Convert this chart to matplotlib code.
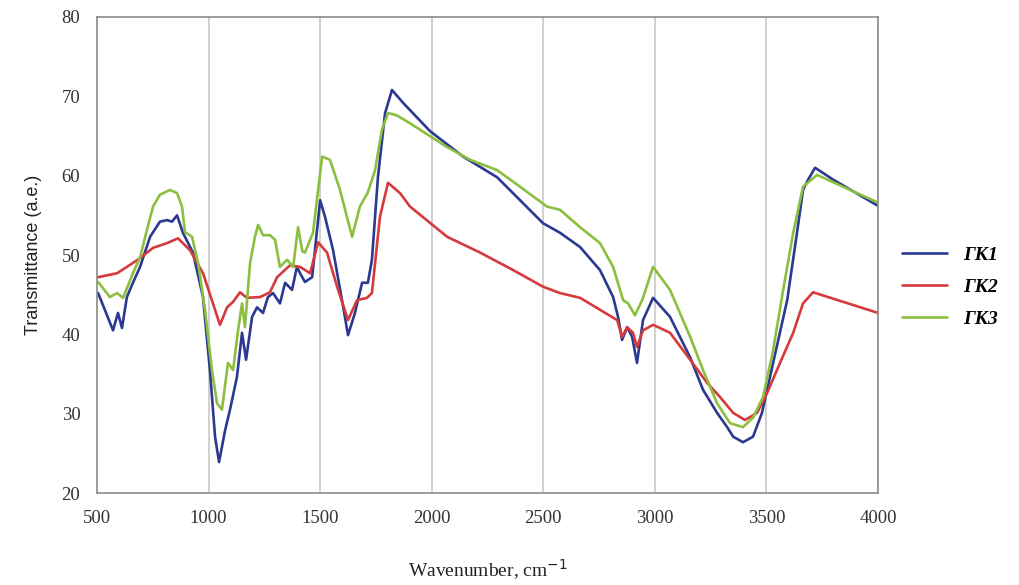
import matplotlib
matplotlib.use("Agg")
import matplotlib.pyplot as plt
from matplotlib import font_manager

# ---- data ----
gk1_x = [505, 572, 594, 612, 634, 661, 693, 738, 782, 814, 836, 859, 885, 930, 975, 1006, 1029, 1047, 1074, 1096,
         1127, 1150, 1168, 1195, 1217, 1244, 1266, 1289, 1320, 1343, 1374, 1396, 1410, 1432, 1464, 1500, 1522, 1558,
         1598, 1625, 1656, 1688, 1714, 1732, 1759, 1791, 1822, 1871, 1993, 2141, 2293, 2499, 2575, 2665, 2754, 2813,
         2835, 2853, 2876, 2898, 2920, 2947, 2992, 3068, 3158, 3216, 3279, 3324, 3351, 3395, 3440, 3480, 3530, 3593,
         3637, 3664, 3687, 3718, 3799, 4000]
gk1_y = [45.2, 40.5, 42.7, 40.8, 44.7, 46.5, 48.5, 52.3, 54.2, 54.4, 54.2, 55.0, 52.8, 50.3, 44.7, 35.5, 27.1, 23.9, 27.9, 30.5,
         34.6, 40.2, 36.8, 42.2, 43.4, 42.7, 44.7, 45.2, 43.9, 46.5, 45.6, 48.5, 47.7, 46.6, 47.2, 56.9, 54.8, 50.6,
         44.3, 39.9, 42.7, 46.5, 46.5, 49.4, 59.8, 67.9, 70.8, 69.2, 65.6, 62.4, 59.8, 54.0, 52.8, 51.0, 48.1, 44.7,
         42.2, 39.3, 40.9, 39.7, 36.4, 41.8, 44.6, 42.2, 37.1, 33.0, 30.1, 28.3, 27.1, 26.4, 27.1, 30.1, 36.4, 44.3,
         52.8, 58.2, 59.5, 61.0, 59.5, 56.2]

gk2_x = [505, 590, 661, 693, 751, 814, 863, 917, 975, 1015, 1051, 1083, 1110, 1141, 1172, 1231, 1275, 1307, 1365,
         1410, 1455, 1491, 1531, 1576, 1625, 1665, 1710, 1732, 1768, 1804, 1858, 1903, 2069, 2217, 2365, 2499, 2575,
         2665, 2754, 2831, 2853, 2876, 2902, 2920, 2947, 2992, 3068, 3158, 3234, 3292, 3351, 3404, 3458, 3503, 3561,
         3620, 3664, 3709, 4000]
gk2_y = [47.2, 47.7, 49.0, 49.6, 50.9, 51.5, 52.1, 50.6, 47.7, 44.3, 41.2, 43.4, 44.1, 45.3, 44.6, 44.7, 45.3, 47.2, 48.7,
         48.5, 47.7, 51.6, 50.3, 46.0, 41.8, 44.3, 44.6, 45.2, 54.8, 59.1, 57.8, 56.1, 52.3, 50.3, 48.1, 46.0, 45.2,
         44.6, 43.1, 41.8, 39.7, 40.9, 40.2, 38.4, 40.5, 41.2, 40.2, 36.8, 33.9, 32.1, 30.1, 29.2, 30.1, 32.6, 36.4,
         40.2, 43.9, 45.3, 42.7]

gk3_x = [505, 558, 590, 617, 661, 693, 724, 751, 782, 827, 859, 881, 894, 926, 953, 984, 1015, 1038, 1060, 1087,
         1110, 1132, 1150, 1163, 1186, 1208, 1222, 1244, 1275, 1298, 1320, 1352, 1379, 1401, 1420, 1432, 1468, 1509,
         1544, 1589, 1643, 1678, 1714, 1746, 1777, 1804, 1844, 1903, 2069, 2172, 2293, 2396, 2517, 2575, 2665, 2754,
         2813, 2858, 2880, 2911, 2943, 2992, 3068, 3158, 3216, 3279, 3337, 3395, 3440, 3485, 3530, 3575, 3620, 3664,
         3727, 4000]
gk3_y = [46.6, 44.7, 45.2, 44.6, 47.7, 49.7, 53.2, 56.1, 57.6, 58.2, 57.8, 56.1, 52.9, 52.3, 49.0, 43.1, 35.5, 31.3, 30.5, 36.4,
         35.5, 40.5, 43.9, 40.9, 49.0, 52.3, 53.8, 52.5, 52.5, 51.9, 48.5, 49.4, 48.5, 53.5, 50.5, 50.3, 52.8, 62.4,
         62.0, 58.2, 52.3, 56.1, 57.9, 60.7, 65.8, 67.9, 67.6, 66.6, 63.6, 62.0, 60.7, 58.6, 56.1, 55.7, 53.5, 51.5,
         48.5, 44.3, 43.9, 42.4, 44.3, 48.5, 45.6, 39.7, 35.5, 31.3, 28.8, 28.3, 29.5, 32.1, 38.0, 45.6, 52.8, 58.6,
         60.1, 56.6]

series_names = ["ГК1", "ГК2", "ГК3"]
x_ticks = [500, 1000, 1500, 2000, 2500, 3000, 3500, 4000]
y_ticks = [20, 30, 40, 50, 60, 70, 80]

colors = ["#2B3990", "#D63A3C", "#8CBF3F"]

installed = {f.name for f in font_manager.fontManager.ttflist}
label_font = "Liberation Sans Narrow" if "Liberation Sans Narrow" in installed else "Liberation Sans"

fig = plt.figure(figsize=(10.2, 5.85), dpi=100)
ax = fig.add_axes([97 / 1020, 1 - 493 / 585, (878 - 97) / 1020, (493 - 17) / 585])

for xs, ys, c, name in zip([gk1_x, gk2_x, gk3_x], [gk1_y, gk2_y, gk3_y], colors, series_names):
    ax.plot(xs, ys, color=c, lw=1.9, label=name, solid_joinstyle="round", solid_capstyle="round")

ax.set_xlim(500, 4000)
ax.set_ylim(20, 80)
ax.set_xticks(x_ticks)
ax.set_yticks(y_ticks)
ax.xaxis.grid(True, color="#c8c8c8", lw=1.2)
ax.set_axisbelow(True)
for s in ax.spines.values():
    s.set_color("#8c8c8c")
    s.set_linewidth(1.2)
ax.tick_params(length=0, labelsize=13.5, colors="#333333", pad=12)
for lab in ax.get_xticklabels() + ax.get_yticklabels():
    lab.set_fontfamily("Liberation Serif")

ax.set_xlabel("Wavenumber, cm$^{-1}$", fontsize=14, family="Liberation Serif", labelpad=22, color="#222222")
ax.set_ylabel("Transmittance (a.e.)", fontsize=13, family=label_font, labelpad=14, color="#222222")

leg = fig.legend(loc="center left", bbox_to_anchor=(885 / 1020, 1 - 287 / 585), frameon=False,
                 prop={"family": "Liberation Serif", "weight": "bold", "style": "italic", "size": 14},
                 handlelength=2.3, labelspacing=0.75)

fig.savefig("out.png", dpi=100)
